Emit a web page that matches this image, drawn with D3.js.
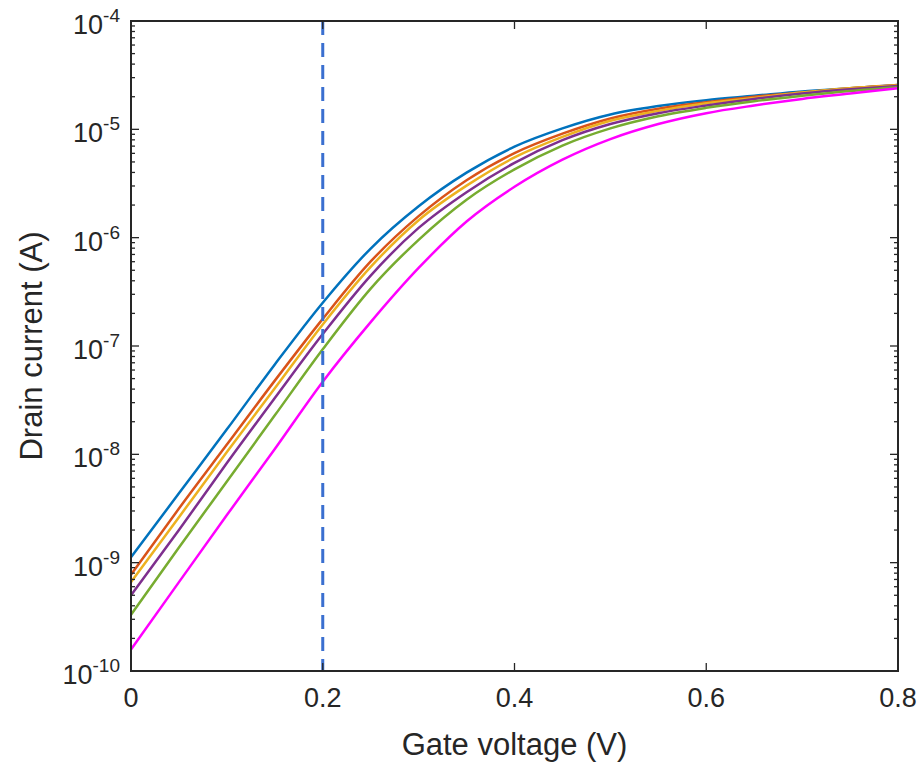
<!DOCTYPE html>
<html>
<head>
<meta charset="utf-8">
<script src="https://cdn.jsdelivr.net/npm/d3@7"></script>
<style>
  body { margin: 0; background: #fff; }
  text { font-family: "Liberation Sans", Arial, sans-serif; fill: #262626; }
</style>
</head>
<body>
<svg id="chart" width="922" height="767"></svg>
<script>
// gate voltage (V)
const gateVoltage = [0, 0.05, 0.1, 0.15, 0.2, 0.25, 0.3, 0.35, 0.4, 0.45, 0.5, 0.55, 0.6, 0.65, 0.7, 0.75, 0.8];

// drain current (A), one array per curve
const blueCurrent = [1.12e-9, 4.37e-9, 1.70e-8, 6.76e-8, 2.51e-7, 7.94e-7, 1.95e-6, 3.98e-6, 6.92e-6, 1.02e-5, 1.37e-5, 1.64e-5, 1.86e-5, 2.04e-5, 2.24e-5, 2.40e-5, 2.57e-5];
const orangeCurrent = [7.76e-10, 3.16e-9, 1.23e-8, 4.79e-8, 1.78e-7, 6.03e-7, 1.58e-6, 3.39e-6, 6.03e-6, 9.12e-6, 1.26e-5, 1.55e-5, 1.78e-5, 2.00e-5, 2.19e-5, 2.40e-5, 2.57e-5];
const yellowCurrent = [6.61e-10, 2.63e-9, 1.05e-8, 4.07e-8, 1.58e-7, 5.37e-7, 1.45e-6, 3.02e-6, 5.50e-6, 8.51e-6, 1.20e-5, 1.48e-5, 1.74e-5, 1.95e-5, 2.19e-5, 2.40e-5, 2.54e-5];
const purpleCurrent = [5.01e-10, 2.00e-9, 8.32e-9, 3.31e-8, 1.29e-7, 4.47e-7, 1.23e-6, 2.63e-6, 4.90e-6, 7.94e-6, 1.12e-5, 1.41e-5, 1.66e-5, 1.91e-5, 2.14e-5, 2.34e-5, 2.51e-5];
const greenCurrent = [3.31e-10, 1.38e-9, 5.62e-9, 2.29e-8, 9.33e-8, 3.39e-7, 9.55e-7, 2.24e-6, 4.27e-6, 7.08e-6, 1.02e-5, 1.32e-5, 1.58e-5, 1.82e-5, 2.04e-5, 2.26e-5, 2.45e-5];
const magentaCurrent = [1.58e-10, 6.61e-10, 2.75e-9, 1.12e-8, 4.68e-8, 1.66e-7, 5.25e-7, 1.41e-6, 2.95e-6, 5.25e-6, 8.13e-6, 1.12e-5, 1.41e-5, 1.66e-5, 1.91e-5, 2.14e-5, 2.40e-5];

const seriesList = [
  { color: '#0072BD', values: blueCurrent },
  { color: '#D95319', values: orangeCurrent },
  { color: '#EDB120', values: yellowCurrent },
  { color: '#7E2F8E', values: purpleCurrent },
  { color: '#77AC30', values: greenCurrent },
  { color: '#FF00FF', values: magentaCurrent }
];

const xTicks = [0, 0.2, 0.4, 0.6, 0.8];
const yDecades = [-10, -9, -8, -7, -6, -5, -4];
const markerVoltage = 0.2;

const margin = { top: 21, right: 24, bottom: 96, left: 131 };
const width = 922 - margin.left - margin.right;
const height = 767 - margin.top - margin.bottom;

const svg = d3.select('#chart');
const g = svg.append('g').attr('transform', `translate(${margin.left},${margin.top})`);

const x = d3.scaleLinear().domain([0, 0.8]).range([0, width]);
const y = d3.scaleLog().domain([1e-10, 1e-4]).range([height, 0]);

const axisColor = '#262626';
const majorLen = 8;
const minorLen = 4;

// curves
const line = d3.line()
  .x((d, i) => x(gateVoltage[i]))
  .y(d => y(d))
  .curve(d3.curveMonotoneX);

g.selectAll('.curve')
  .data(seriesList)
  .join('path')
  .attr('class', 'curve')
  .attr('fill', 'none')
  .attr('stroke', d => d.color)
  .attr('stroke-width', 2.5)
  .attr('d', d => line(d.values));

// dashed marker
g.append('line')
  .attr('x1', x(markerVoltage)).attr('x2', x(markerVoltage))
  .attr('y1', 0).attr('y2', height)
  .attr('stroke', '#3A6FD0')
  .attr('stroke-width', 3)
  .attr('stroke-dasharray', '14,8');

// ticks inside the box
const tickG = g.append('g').attr('stroke', axisColor).attr('stroke-width', 1.3);

xTicks.forEach(v => {
  tickG.append('line').attr('x1', x(v)).attr('x2', x(v)).attr('y1', height).attr('y2', height - majorLen);
  tickG.append('line').attr('x1', x(v)).attr('x2', x(v)).attr('y1', 0).attr('y2', majorLen);
});

yDecades.forEach(e => {
  const base = Math.pow(10, e);
  tickG.append('line').attr('x1', 0).attr('x2', majorLen).attr('y1', y(base)).attr('y2', y(base));
  tickG.append('line').attr('x1', width).attr('x2', width - majorLen).attr('y1', y(base)).attr('y2', y(base));
  if (e < -4) {
    for (let k = 2; k <= 9; k++) {
      const yy = y(base * k);
      tickG.append('line').attr('x1', 0).attr('x2', minorLen).attr('y1', yy).attr('y2', yy);
      tickG.append('line').attr('x1', width).attr('x2', width - minorLen).attr('y1', yy).attr('y2', yy);
    }
  }
});

// frame
g.append('rect')
  .attr('width', width).attr('height', height)
  .attr('fill', 'none')
  .attr('stroke', axisColor)
  .attr('stroke-width', 2);

// x tick labels
g.selectAll('.xlab')
  .data(xTicks)
  .join('text')
  .attr('class', 'xlab')
  .attr('x', d => x(d))
  .attr('y', height + 36)
  .attr('text-anchor', 'middle')
  .attr('font-size', 27)
  .text(d => d === 0 ? '0' : d3.format('.1f')(d));

// y tick labels with superscript
const yLab = g.selectAll('.ylab')
  .data(yDecades)
  .join('text')
  .attr('class', 'ylab')
  .attr('x', -11)
  .attr('y', d => y(Math.pow(10, d)) + 13)
  .attr('text-anchor', 'end')
  .attr('font-size', 27);
yLab.append('tspan').text('10');
yLab.append('tspan')
  .attr('dy', -12)
  .attr('font-size', 19)
  .text(d => String(d));

// axis titles
g.append('text')
  .attr('x', width / 2)
  .attr('y', height + 84)
  .attr('text-anchor', 'middle')
  .attr('font-size', 31)
  .text('Gate voltage (V)');

g.append('text')
  .attr('transform', `translate(${-89},${height / 2}) rotate(-90)`)
  .attr('text-anchor', 'middle')
  .attr('font-size', 31)
  .text('Drain current (A)');
</script>
</body>
</html>
